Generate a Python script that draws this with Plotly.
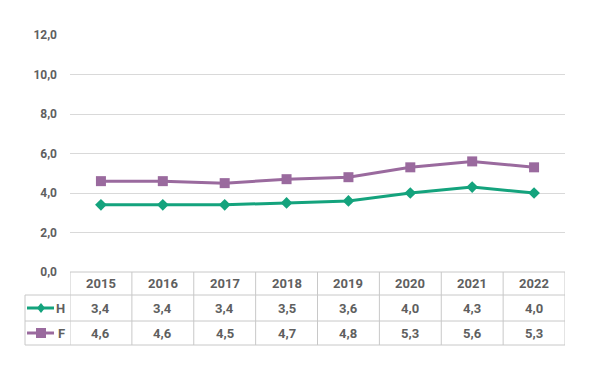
import plotly.graph_objects as go

years = ["2015", "2016", "2017", "2018", "2019", "2020", "2021", "2022"]
h_values = [3.4, 3.4, 3.4, 3.5, 3.6, 4.0, 4.3, 4.0]
f_values = [4.6, 4.6, 4.5, 4.7, 4.8, 5.3, 5.6, 5.3]
series_names = ["H", "F"]

GREEN = "#14A37D"
PURPLE = "#9A6A9E"
TEXT = "#5F5F5F"
GRID = "#D9D9D9"
BORDER = "#C8C8C8"
FONT = "Roboto, sans-serif"

W, H = 600, 378
ML, MR, MT, MB = 62, 43, 27, 114
PW = W - ML - MR
PH = H - MT - MB  # plot height px


def py(px_from_axis):
    """convert pixels below the x axis to paper y"""
    return -px_from_axis / PH


xs = list(range(len(years)))
fig = go.Figure()
fig.add_trace(go.Scatter(x=xs, y=h_values, mode="lines+markers", name="H",
                         line=dict(color=GREEN, width=3),
                         marker=dict(symbol="diamond", size=9, color=GREEN)))
fig.add_trace(go.Scatter(x=xs, y=f_values, mode="lines+markers", name="F",
                         line=dict(color=PURPLE, width=3),
                         marker=dict(symbol="square", size=10, color=PURPLE)))

shapes = []
annotations = []

# table geometry (pixels below axis)
row_lines = [0, 23, 49, 73]
row_centers = [(row_lines[i] + row_lines[i + 1]) / 2 for i in range(3)]
left_col = -45 / PW

shapes.append(dict(type="line", xref="x", yref="paper", x0=-0.5, x1=len(years) - 0.5,
                   y0=py(row_lines[0]), y1=py(row_lines[0]), line=dict(color=BORDER, width=1)))
for rl in row_lines[1:]:
    shapes.append(dict(type="line", xref="paper", yref="paper", x0=left_col, x1=1,
                       y0=py(rl), y1=py(rl), line=dict(color=BORDER, width=1)))
for i in range(len(years) + 1):
    shapes.append(dict(type="line", xref="x", yref="paper", x0=i - 0.5, x1=i - 0.5,
                       y0=py(row_lines[0]), y1=py(row_lines[-1]), line=dict(color=BORDER, width=1)))
shapes.append(dict(type="line", xref="paper", yref="paper", x0=left_col, x1=left_col,
                   y0=py(row_lines[1]), y1=py(row_lines[-1]), line=dict(color=BORDER, width=1)))

cell_font = dict(family=FONT, size=13, color=TEXT, weight="bold")
for i, yr in enumerate(years):
    annotations.append(dict(x=i, y=py(row_centers[0]), xref="x", yref="paper", text=yr,
                            xanchor="center", yanchor="middle",
                            showarrow=False, font=cell_font))


def fmt(v):
    return f"{v:.1f}".replace(".", ",")


for r, (vals, color, sym) in enumerate([(h_values, GREEN, "diamond"), (f_values, PURPLE, "square")]):
    yc = py(row_centers[r + 1])
    for i, v in enumerate(vals):
        annotations.append(dict(x=i, y=yc, xref="x", yref="paper", text=fmt(v),
                                xanchor="center", yanchor="middle",
                                showarrow=False, font=cell_font))
    x_anchor = -29 / PW
    shapes.append(dict(type="line", xref="paper", yref="paper", xsizemode="pixel", xanchor=x_anchor,
                       x0=-14, x1=13, y0=yc, y1=yc, line=dict(color=color, width=3)))
    if sym == "diamond":
        path = "M 0 -5 L 4 0 L 0 5 L -4 0 Z"
    else:
        path = "M -5 -5 L 5 -5 L 5 5 L -5 5 Z"
    shapes.append(dict(type="path", xref="paper", yref="paper", xsizemode="pixel", ysizemode="pixel",
                       xanchor=x_anchor, yanchor=yc, path=path, fillcolor=color, line=dict(width=0)))
    annotations.append(dict(x=-3 / PW, y=yc, xref="paper", yref="paper",
                            text=series_names[r], showarrow=False, xanchor="right", yanchor="middle",
                            font=cell_font))

fig.update_layout(
    width=W, height=H,
    margin=dict(l=ML, r=MR, t=MT, b=MB),
    paper_bgcolor="white", plot_bgcolor="white",
    separators=", ",
    showlegend=False,
    shapes=shapes,
    annotations=annotations,
    xaxis=dict(range=[-0.5, len(years) - 0.5], showticklabels=False, showgrid=False,
               zeroline=False, showline=False, fixedrange=True),
    yaxis=dict(range=[0, 12], dtick=2, tickformat=".1f", showgrid=True, gridcolor=GRID,
               gridwidth=1, zeroline=False, showline=False, ticks="", ticklabelstandoff=12,
               tickfont=dict(family=FONT, size=12, color=TEXT, weight="bold"), fixedrange=True),
)
fig.write_html("out.html")
